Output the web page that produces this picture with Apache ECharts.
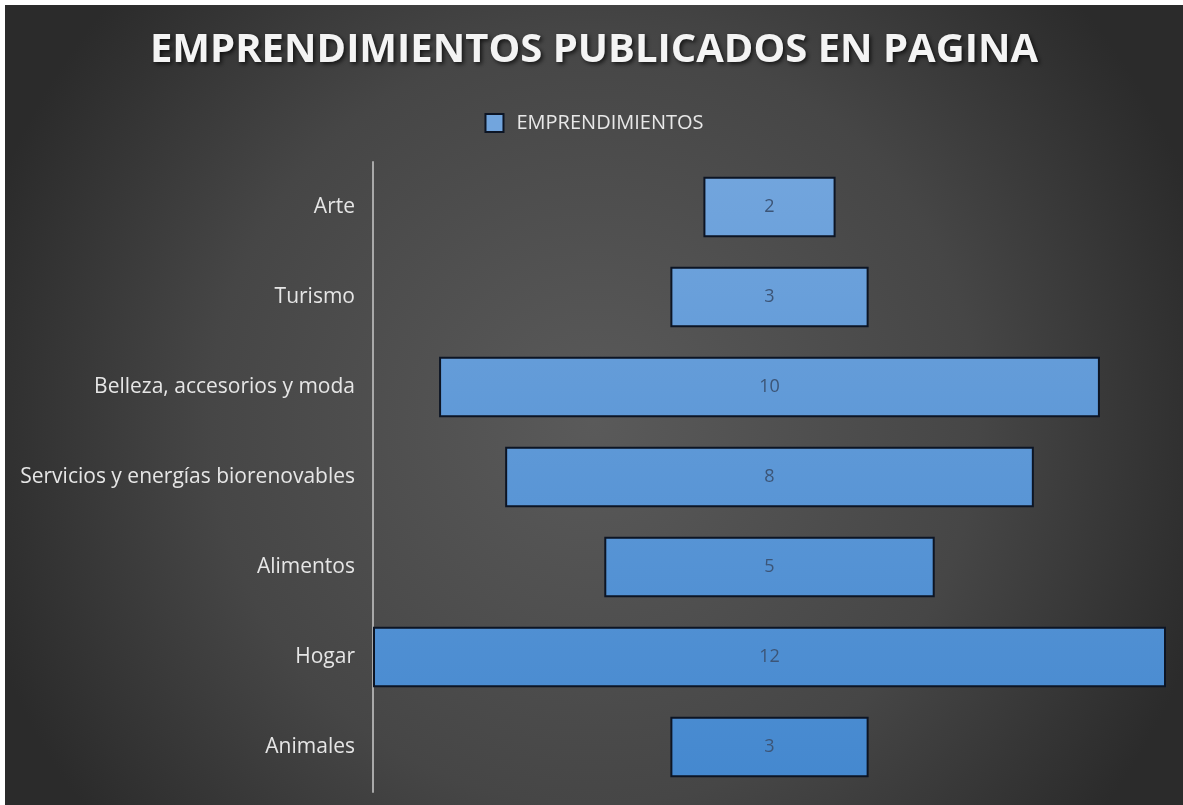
<!DOCTYPE html>
<html>
<head>
<meta charset="utf-8">
<script src="https://cdn.jsdelivr.net/npm/echarts@6/dist/echarts.min.js"></script>
<style>
  html, body { margin: 0; padding: 0; background: #ffffff; }
  #chart { position: absolute; left: 5px; top: 5px; width: 1178px; height: 800px; }
</style>
</head>
<body>
<div id="chart"></div>
<script>
// data
const categories = ['Arte', 'Turismo', 'Belleza, accesorios y moda', 'Servicios y energías biorenovables', 'Alimentos', 'Hogar', 'Animales']
const values = [2, 3, 10, 8, 5, 12, 3]
const seriesName = 'EMPRENDIMIENTOS'
const titleText = 'EMPRENDIMIENTOS PUBLICADOS EN PAGINA'

const maxValue = Math.max(...values)
// invisible offset so each bar sits centred like a funnel
const offsets = values.map(v => (maxValue - v) / 2)

const chart = echarts.init(document.getElementById('chart'), null, { renderer: 'canvas' })

const font = '"Open Sans", "Noto Sans", sans-serif'

chart.setOption({
  backgroundColor: {
    type: 'radial',
    x: 0.5,
    y: 0.52,
    r: 0.8,
    colorStops: [
      { offset: 0, color: '#5a5a5a' },
      { offset: 0.6, color: '#464646' },
      { offset: 1, color: '#2b2b2b' },
    ],
  },
  animation: false,
  title: {
    text: titleText,
    left: 'center',
    top: 21,
    textStyle: {
      color: '#f4f4f4',
      fontFamily: font,
      fontWeight: 'bold',
      fontSize: 40,
      textShadowColor: 'rgba(0,0,0,0.7)',
      textShadowBlur: 4,
      textShadowOffsetX: 2,
      textShadowOffsetY: 2,
    },
  },
  legend: {
    data: [{ name: seriesName, icon: 'rect' }],
    top: 103,
    left: 'center',
    itemWidth: 18,
    itemHeight: 18,
    itemGap: 8,
    textStyle: { color: '#e8e8e8', fontFamily: font, fontSize: 20, padding: [0, 0, 0, 8] },
  },
  grid: {
    left: 368,
    right: 17,
    top: 157,
    bottom: 13,
    containLabel: false,
  },
  xAxis: {
    type: 'value',
    min: 0,
    max: maxValue,
    show: false,
  },
  yAxis: {
    type: 'category',
    inverse: true,
    data: categories,
    axisLine: { show: true, lineStyle: { color: '#a9a9a9', width: 2 } },
    axisTick: { show: false },
    axisLabel: { color: '#e6e6e6', fontFamily: font, fontSize: 21, margin: 18 },
  },
  series: [
    {
      name: 'offset',
      type: 'bar',
      stack: 'funnel',
      data: offsets,
      itemStyle: { color: 'transparent' },
      emphasis: { disabled: true },
      barCategoryGap: '33%',
    },
    {
      name: seriesName,
      type: 'bar',
      stack: 'funnel',
      data: values,
      barCategoryGap: '33%',
      itemStyle: {
        color: {
          type: 'linear',
          x: 0, y: 170, x2: 0, y2: 780,
          global: true,
          colorStops: [
            { offset: 0, color: '#72a5dd' },
            { offset: 1, color: '#4488cf' },
          ],
        },
        borderColor: '#0d1524',
        borderWidth: 2,
      },
      label: {
        show: true,
        position: 'inside',
        color: '#3c5577',
        fontFamily: font,
        fontSize: 18,
      },
    },
  ],
})
</script>
</body>
</html>
